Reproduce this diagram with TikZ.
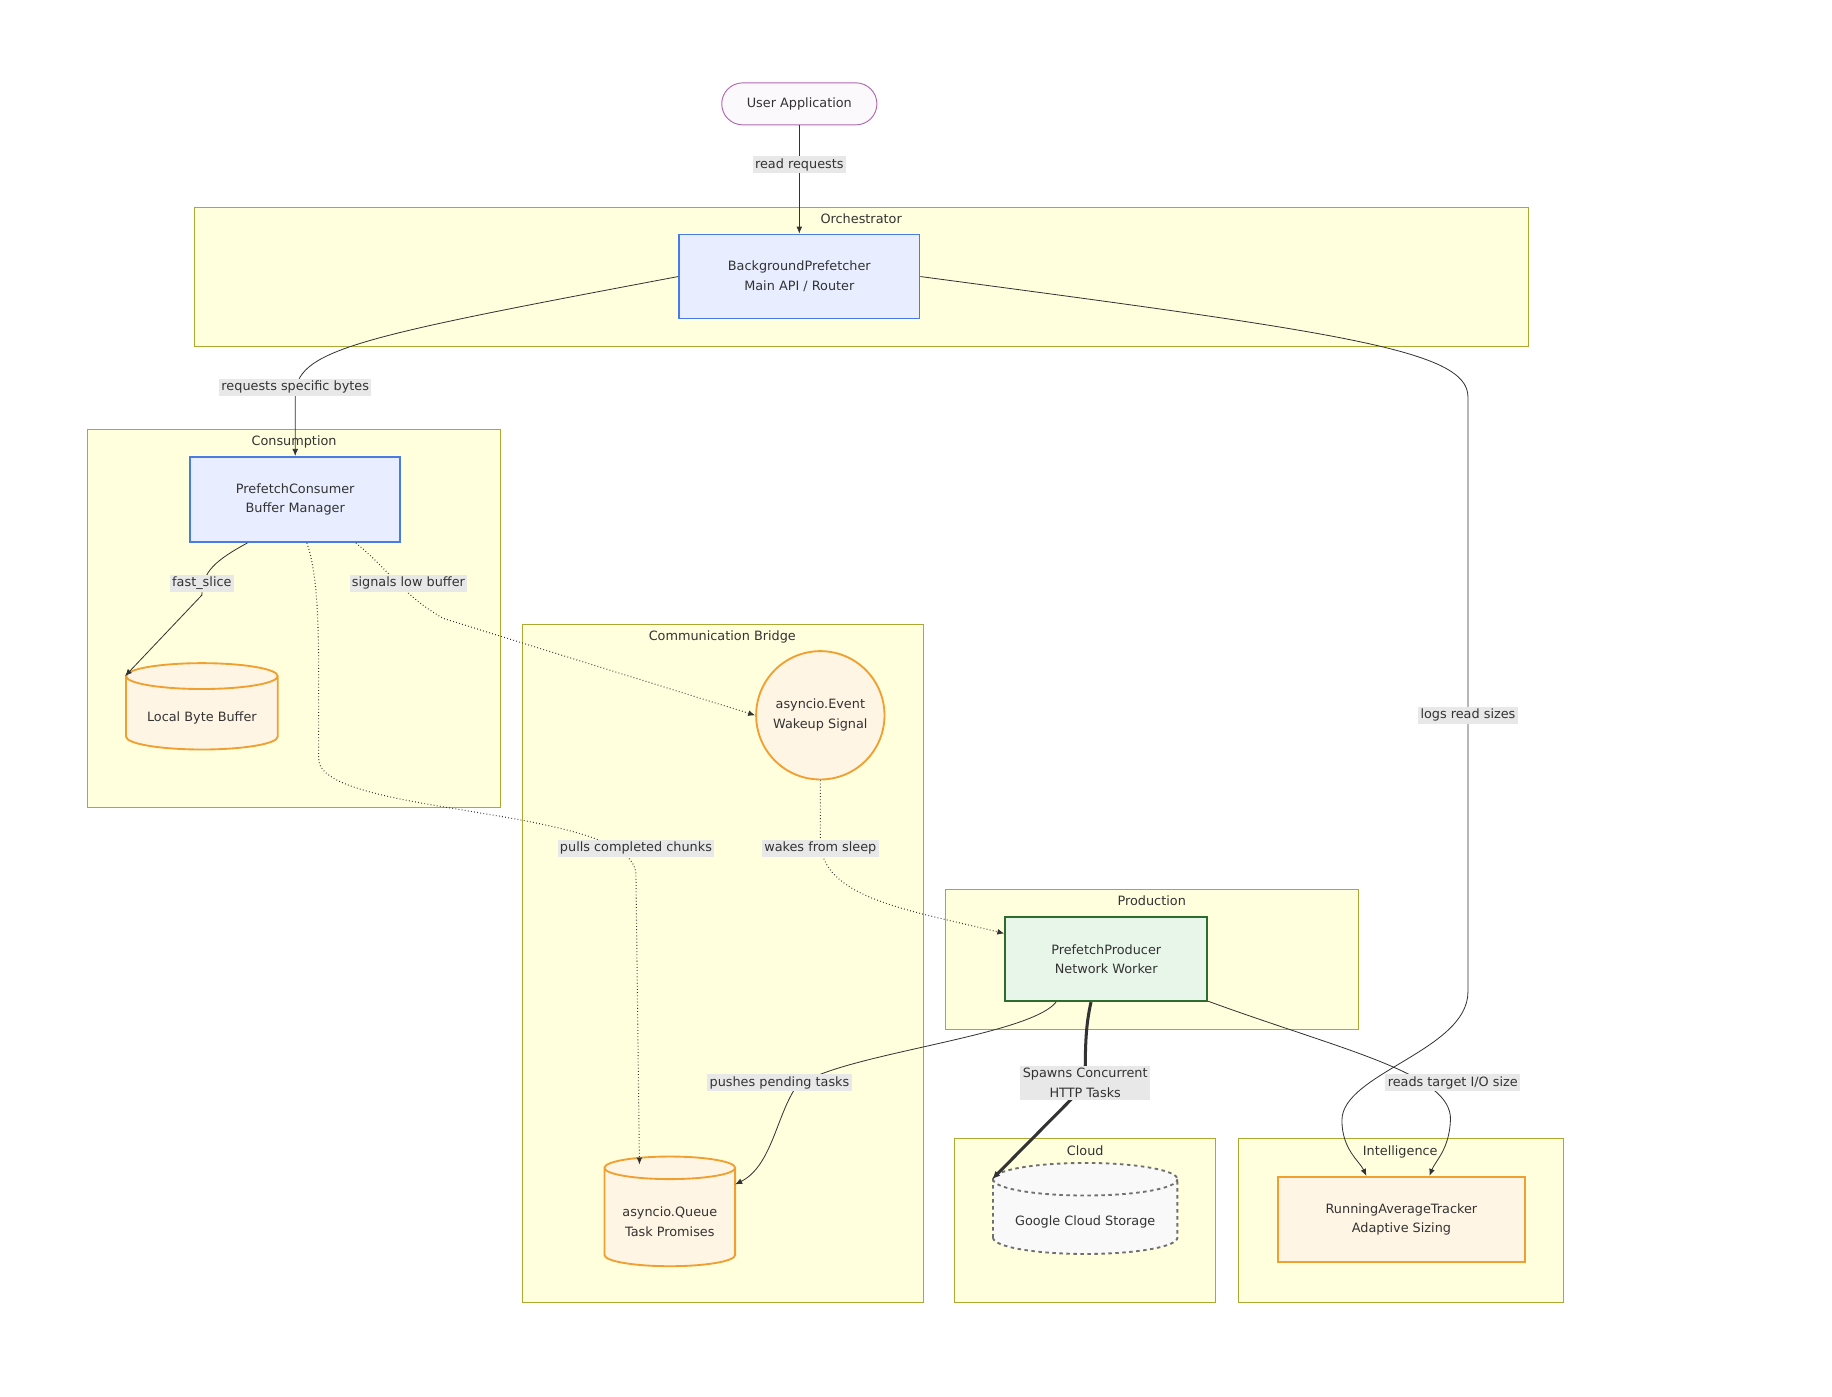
\documentclass[tikz,border=0pt]{standalone}
\usepackage{fontspec}
\setmainfont{DejaVu Sans}
\usetikzlibrary{positioning,calc,shapes.geometric}
\definecolor{clfill}{HTML}{FFFFDE}
\definecolor{clline}{HTML}{AAAA33}
\definecolor{blue}{HTML}{4A7BE0}
\definecolor{bluefill}{HTML}{E8EEFF}
\definecolor{orange}{HTML}{F0A030}
\definecolor{orangefill}{HTML}{FFF5E4}
\definecolor{green}{HTML}{2E6B2E}
\definecolor{greenfill}{HTML}{E8F5E9}
\definecolor{lblfill}{HTML}{E8E8E8}
\definecolor{txt}{HTML}{333333}
\tikzset{
  cluster/.style={draw=clline, fill=clfill, line width=0.8pt},
  ctitle/.style={text=txt, font=\fontsize{11}{13}\selectfont, anchor=north},
  blk/.style={draw=#1, fill=#1fill, line width=1.6pt, text=txt, align=center, font=\fontsize{11}{17}\selectfont},
  store/.style={cylinder, shape border rotate=90, shape aspect=0.22, draw=orange, fill=orangefill, line width=1.6pt, text=txt, align=center, font=\fontsize{11}{17}\selectfont},
  lbl/.style={fill=lblfill, text=txt, align=center, inner sep=2pt, font=\fontsize{11}{17}\selectfont},
  link/.style={draw=txt, line width=0.7pt, -{Latex[length=6pt,width=5pt]}},
  weak/.style={link, dotted, line width=0.9pt},
}
\usetikzlibrary{arrows.meta}
\begin{document}
\begin{tikzpicture}[x=1pt,y=-1pt]
  \useasboundingbox (0,0) rectangle (1570,1197);
  % clusters
  \draw[cluster] (167,178) rectangle (1310,297);
  \node[ctitle] at (738,180) {Orchestrator};
  \draw[cluster] (75,368) rectangle (429,692);
  \node[ctitle] at (252,370) {Consumption};
  \draw[cluster] (448,535) rectangle (791,1116);
  \node[ctitle] at (619,537) {Communication Bridge};
  \draw[cluster] (810,762) rectangle (1164,882);
  \node[ctitle] at (987,764) {Production};
  \draw[cluster] (818,976) rectangle (1042,1116);
  \node[ctitle] at (930,978) {Cloud};
  \draw[cluster] (1061,976) rectangle (1340,1116);
  \node[ctitle] at (1200,978) {Intelligence};

  % nodes
  \node[draw=violet!60, fill=bluefill!80!violet!10, rounded corners=18pt, line width=0.8pt, minimum width=133pt, minimum height=36pt, text=txt, font=\fontsize{11}{13}\selectfont] (user) at (685,89) {User Application};
  \node[blk=blue, minimum width=206pt, minimum height=72pt] (bg) at (685,237) {BackgroundPrefetcher\\Main API / Router};
  \node[blk=blue, minimum width=180pt, minimum height=73pt] (cons) at (253,428) {PrefetchConsumer\\Buffer Manager};
  \node[store, minimum width=130pt, minimum height=74pt] (local) at (173,613) {\\[-4pt]Local Byte Buffer};
  \node[circle, draw=orange, fill=orangefill, line width=1.6pt, minimum size=110pt, inner sep=0pt, text=txt, align=center, font=\fontsize{11}{17}\selectfont] (event) at (703,613) {asyncio.Event\\Wakeup Signal};
  \node[store, minimum width=112pt, minimum height=94pt] (queue) at (574,1045) {\\[-4pt]asyncio.Queue\\Task Promises};
  \node[blk=green, minimum width=173pt, minimum height=72pt] (prod) at (948,822) {PrefetchProducer\\Network Worker};
  \node[store, draw=txt!70, fill=gray!5, dashed, minimum width=158pt, minimum height=78pt] (gcs) at (930,1045) {\\[-4pt]Google Cloud Storage};
  \node[blk=orange, minimum width=212pt, minimum height=73pt] (track) at (1201,1045) {RunningAverageTracker\\Adaptive Sizing};

  % connectors
  \draw[link] (user) -- (bg.north);
  \node[lbl] at (685,141) {read requests};
  \draw[link] (bg.west) .. controls (300,290) and (253,300) .. (253,340) -- (cons.north);
  \node[lbl] at (253,332) {requests specific bytes};
  \draw[link] (bg.east) .. controls (1150,285) and (1258,300) .. (1258,340) -- (1258,850) .. controls (1258,900) and (1150,920) .. (1150,960) .. controls (1150,985) and (1165,995) .. ($(track.north)+(-30,0)$);
  \node[lbl] at (1258,613) {logs read sizes};
  \draw[link] ($(cons.south)+(-41,0)$) .. controls (185,480) and (173,490) .. (173,510) -- (local.before top);
  \node[lbl] at (173,500) {fast\_slice};
  \draw[weak] ($(cons.south)+(52,0)$) .. controls (335,490) and (345,510) .. (380,530) -- (event.west);
  \node[lbl] at (350,500) {signals low buffer};
  \draw[weak] ($(cons.south)+(10,0)$) .. controls (275,500) and (273,560) .. (273,650) .. controls (273,700) and (545,690) .. (545,750) -- (548,998);
  \node[lbl] at (545,727) {pulls completed chunks};
  \draw[weak] (event.south) -- (703,720) .. controls (703,770) and (780,780) .. ($(prod.west)+(0,-22)$);
  \node[lbl] at (703,727) {wakes from sleep};
  \draw[link] ($(prod.south)+(-43,0)$) .. controls (880,890) and (700,905) .. (680,935) .. controls (665,960) and (660,1000) .. (630,1015);
  \node[lbl] at (668,928) {pushes pending tasks};
  \draw[link, line width=2.6pt, -{Latex[length=7pt,width=6pt]}] ($(prod.south)+(-13,0)$) .. controls (930,880) and (930,900) .. (930,930) -- (gcs.before top);
  \node[lbl] at (930,928) {Spawns Concurrent\\HTTP Tasks};
  \draw[link] ($(prod.east)+(0,36)$) .. controls (1150,900) and (1245,920) .. (1243,960) .. controls (1242,985) and (1230,995) .. ($(track.north)+(24,0)$);
  \node[lbl] at (1245,928) {reads target I/O size};
\end{tikzpicture}
\end{document}
